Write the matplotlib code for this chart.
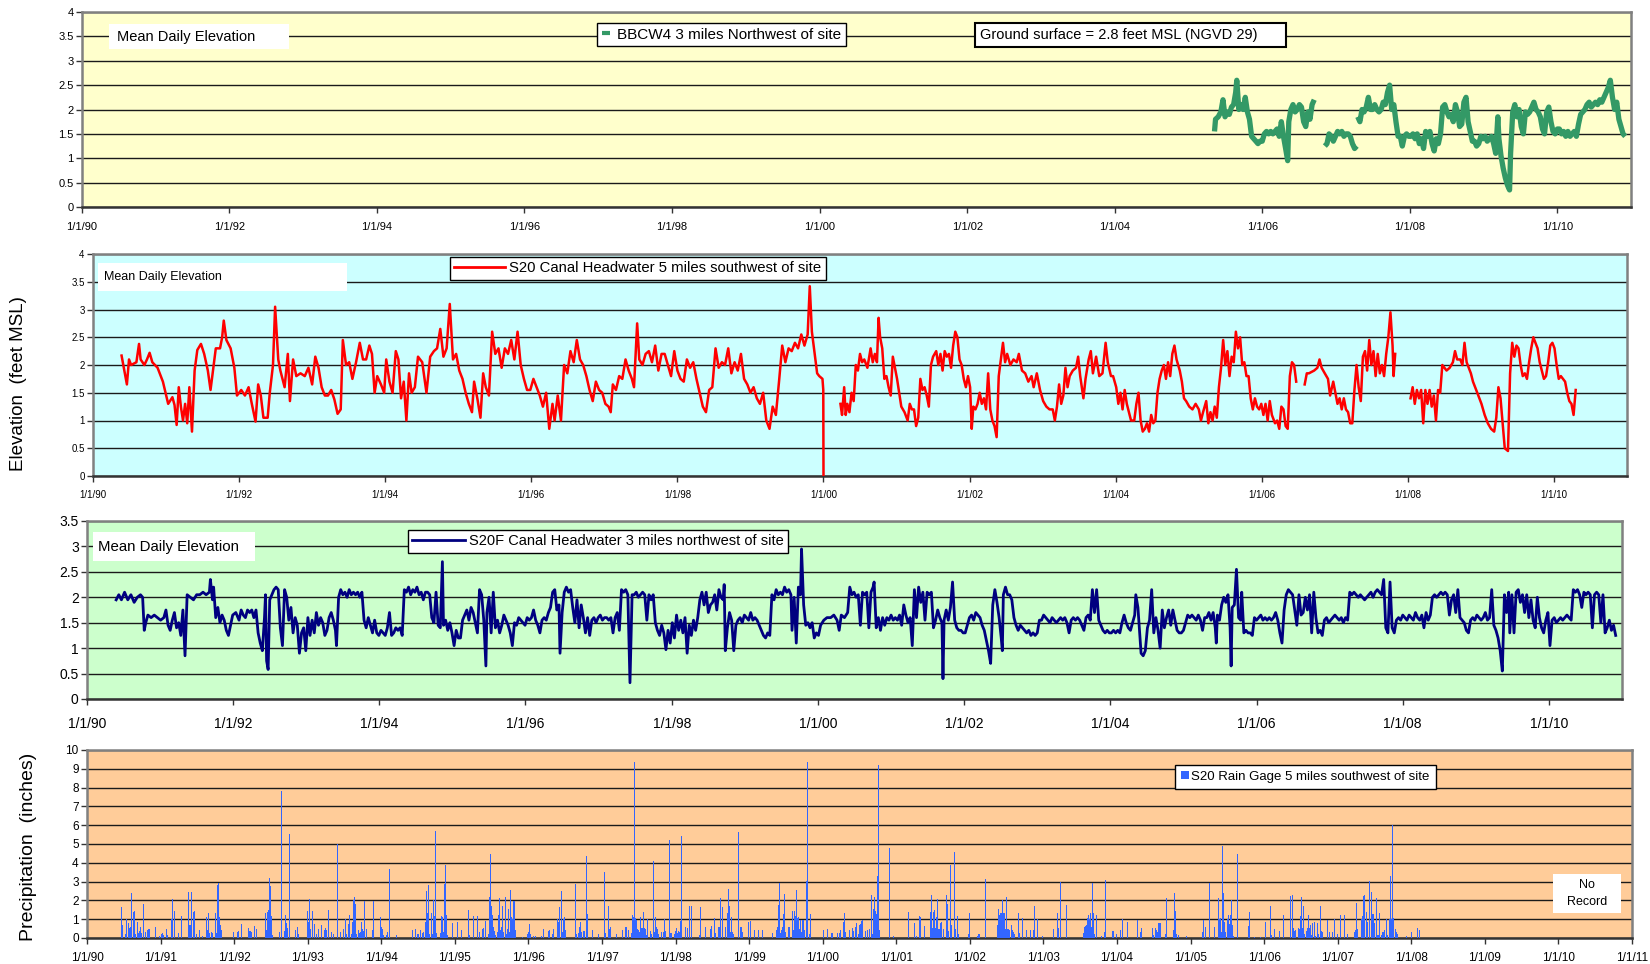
import matplotlib
matplotlib.use("Agg")
import matplotlib.pyplot as plt
from matplotlib.lines import Line2D
from matplotlib.patches import Rectangle
from matplotlib.ticker import FuncFormatter, MultipleLocator
import numpy as np
import pandas as pd

plt.rcParams["font.family"] = ["Liberation Sans", "DejaVu Sans"]

# ---- data: (decimal year, value) ----
# BBCW4 well, mean daily elevation (ft MSL), three recorded stretches
bbcw4_segments = [
    [(2005.353, 1.55), (2005.367, 1.80), (2005.403, 1.85), (2005.439, 1.95), (2005.468, 2.20), (2005.496, 1.85),
     (2005.525, 1.95), (2005.554, 1.90), (2005.583, 2.05), (2005.612, 2.10), (2005.640, 2.35), (2005.655, 2.60),
     (2005.683, 2.00), (2005.712, 2.10), (2005.741, 2.00), (2005.770, 2.25), (2005.799, 1.95), (2005.827, 1.80),
     (2005.856, 1.45), (2005.885, 1.40), (2005.914, 1.35), (2005.942, 1.30), (2005.971, 1.35), (2006.000, 1.35),
     (2006.029, 1.50), (2006.058, 1.55), (2006.086, 1.50), (2006.115, 1.55), (2006.144, 1.50), (2006.173, 1.55),
     (2006.201, 1.60), (2006.230, 1.45), (2006.259, 1.75), (2006.288, 1.45), (2006.317, 1.20), (2006.345, 0.95),
     (2006.360, 1.75), (2006.388, 2.00), (2006.417, 2.10), (2006.446, 1.95), (2006.475, 2.00), (2006.504, 2.10),
     (2006.532, 2.05), (2006.561, 1.75), (2006.590, 1.65), (2006.619, 1.95), (2006.647, 1.80), (2006.676, 2.10),
     (2006.705, 2.20)],
    [(2006.849, 1.25), (2006.878, 1.30), (2006.906, 1.50), (2006.935, 1.45), (2006.964, 1.35), (2006.993, 1.45),
     (2007.022, 1.55), (2007.050, 1.50), (2007.079, 1.55), (2007.108, 1.45), (2007.137, 1.50), (2007.165, 1.50),
     (2007.194, 1.45), (2007.223, 1.30), (2007.252, 1.20), (2007.281, 1.25)],
    [(2007.295, 1.85), (2007.324, 1.75), (2007.353, 2.00), (2007.381, 1.95), (2007.410, 2.05), (2007.439, 2.25),
     (2007.468, 2.00), (2007.496, 2.00), (2007.525, 2.10), (2007.554, 2.00), (2007.583, 1.95), (2007.612, 2.00),
     (2007.640, 2.15), (2007.669, 2.10), (2007.698, 2.35), (2007.727, 2.50), (2007.755, 2.00), (2007.784, 2.10),
     (2007.813, 1.75), (2007.842, 1.45), (2007.871, 1.45), (2007.899, 1.25), (2007.928, 1.45), (2007.957, 1.50),
     (2007.986, 1.45), (2008.014, 1.45), (2008.043, 1.50), (2008.072, 1.40), (2008.101, 1.50), (2008.129, 1.30),
     (2008.158, 1.40), (2008.187, 1.20), (2008.216, 1.55), (2008.245, 1.45), (2008.273, 1.55), (2008.302, 1.30),
     (2008.331, 1.15), (2008.360, 1.40), (2008.388, 1.30), (2008.417, 1.50), (2008.446, 2.05), (2008.475, 2.10),
     (2008.504, 1.95), (2008.532, 1.85), (2008.561, 1.90), (2008.590, 1.75), (2008.619, 2.10), (2008.647, 1.95),
     (2008.676, 1.65), (2008.705, 1.70), (2008.734, 2.15), (2008.763, 2.25), (2008.791, 1.75), (2008.820, 1.55),
     (2008.849, 1.35), (2008.878, 1.35), (2008.906, 1.25), (2008.935, 1.30), (2008.964, 1.45), (2008.993, 1.40),
     (2009.022, 1.45), (2009.050, 1.35), (2009.079, 1.40), (2009.108, 1.45), (2009.137, 1.30), (2009.165, 1.10),
     (2009.194, 1.85), (2009.209, 1.40), (2009.237, 1.05), (2009.266, 0.80), (2009.295, 0.60), (2009.324, 0.45),
     (2009.353, 0.35), (2009.367, 1.10), (2009.396, 1.95), (2009.424, 2.10), (2009.453, 1.85), (2009.482, 2.00),
     (2009.511, 1.65), (2009.540, 1.50), (2009.568, 1.95), (2009.597, 1.90), (2009.626, 1.95), (2009.655, 2.05),
     (2009.683, 2.15), (2009.712, 2.00), (2009.741, 1.95), (2009.770, 1.85), (2009.799, 1.60), (2009.827, 1.50),
     (2009.856, 1.95), (2009.885, 2.05), (2009.914, 1.75), (2009.942, 1.55), (2009.971, 1.50), (2010.000, 1.60),
     (2010.029, 1.60), (2010.058, 1.50), (2010.086, 1.55), (2010.115, 1.45), (2010.144, 1.55), (2010.173, 1.45),
     (2010.201, 1.50), (2010.230, 1.55), (2010.259, 1.45), (2010.288, 1.70), (2010.317, 1.90), (2010.345, 1.95),
     (2010.374, 2.00), (2010.403, 2.10), (2010.432, 2.15), (2010.460, 2.05), (2010.489, 2.10), (2010.518, 2.15),
     (2010.547, 2.10), (2010.576, 2.20), (2010.604, 2.15), (2010.633, 2.25), (2010.662, 2.35), (2010.691, 2.45),
     (2010.719, 2.60), (2010.748, 2.25), (2010.777, 2.00), (2010.806, 2.15), (2010.835, 1.80), (2010.863, 1.65),
     (2010.892, 1.50), (2010.921, 1.45)],
]

# S20 canal headwater (ft MSL), with gaps in the record
s20_segments = [
    [(1990.391, 2.17), (1990.464, 1.65), (1990.493, 2.10), (1990.522, 2.00), (1990.594, 2.05), (1990.630, 2.38),
     (1990.652, 2.10), (1990.703, 2.00), (1990.739, 2.10), (1990.775, 2.22), (1990.812, 2.05), (1990.884, 1.95),
     (1990.957, 1.70), (1990.993, 1.50), (1991.029, 1.30), (1991.087, 1.42), (1991.116, 1.28), (1991.145, 0.92),
     (1991.174, 1.60), (1991.203, 1.25), (1991.232, 1.00), (1991.261, 1.30), (1991.290, 0.95), (1991.319, 1.60),
     (1991.355, 0.80), (1991.391, 1.90), (1991.428, 2.27), (1991.478, 2.38), (1991.522, 2.20), (1991.572, 1.90),
     (1991.609, 1.55), (1991.681, 2.30), (1991.739, 2.30), (1991.768, 2.50), (1991.790, 2.80), (1991.826, 2.45),
     (1991.884, 2.30), (1991.935, 1.95), (1991.971, 1.45), (1992.029, 1.55), (1992.080, 1.45), (1992.130, 1.60),
     (1992.174, 1.30), (1992.225, 0.98), (1992.261, 1.65), (1992.297, 1.45), (1992.333, 1.05), (1992.391, 1.05),
     (1992.420, 1.50), (1992.464, 2.00), (1992.493, 3.05), (1992.536, 2.10), (1992.565, 1.90), (1992.623, 1.60),
     (1992.667, 2.20), (1992.696, 1.35), (1992.739, 2.10), (1992.783, 1.80), (1992.841, 1.85), (1992.899, 1.80),
     (1992.949, 1.95), (1993.000, 1.65), (1993.043, 2.15), (1993.087, 1.95), (1993.130, 1.60), (1993.174, 1.45),
     (1993.217, 1.45), (1993.261, 1.55), (1993.304, 1.38), (1993.348, 1.12), (1993.391, 1.20), (1993.420, 2.45),
     (1993.464, 2.00), (1993.507, 2.05), (1993.551, 1.75), (1993.601, 2.05), (1993.652, 2.40), (1993.696, 2.10),
     (1993.739, 2.10), (1993.783, 2.35), (1993.819, 2.20), (1993.855, 1.50), (1993.891, 1.80), (1993.942, 1.65),
     (1993.986, 1.50), (1994.014, 2.10), (1994.058, 1.70), (1994.101, 1.50), (1994.145, 2.25), (1994.181, 2.10),
     (1994.217, 1.40), (1994.254, 1.70), (1994.290, 1.00), (1994.326, 1.85), (1994.362, 1.50), (1994.406, 1.60),
     (1994.449, 2.15), (1994.507, 2.05), (1994.565, 1.50), (1994.616, 2.15), (1994.667, 2.25), (1994.710, 2.30),
     (1994.754, 2.65), (1994.797, 2.15), (1994.841, 2.30), (1994.884, 3.10), (1994.928, 2.10), (1994.971, 2.20),
     (1995.014, 1.90), (1995.058, 1.75), (1995.101, 1.50), (1995.145, 1.30), (1995.188, 1.15), (1995.217, 1.70),
     (1995.261, 1.40), (1995.304, 1.05), (1995.341, 1.85), (1995.377, 1.60), (1995.420, 1.45), (1995.464, 2.60),
     (1995.507, 2.20), (1995.551, 2.30), (1995.594, 1.95), (1995.638, 2.30), (1995.681, 2.20), (1995.725, 2.45),
     (1995.768, 2.10), (1995.812, 2.60), (1995.855, 2.00), (1995.899, 1.75), (1995.942, 1.55), (1995.986, 1.55),
     (1996.029, 1.75), (1996.072, 1.60), (1996.116, 1.45), (1996.159, 1.25), (1996.203, 1.50), (1996.246, 0.85),
     (1996.290, 1.30), (1996.319, 1.00), (1996.362, 1.45), (1996.406, 1.00), (1996.449, 2.00), (1996.493, 1.85),
     (1996.536, 2.25), (1996.580, 2.05), (1996.623, 2.45), (1996.667, 2.10), (1996.710, 2.00), (1996.754, 1.80),
     (1996.797, 1.55), (1996.841, 1.35), (1996.884, 1.70), (1996.928, 1.55), (1996.971, 1.50), (1997.014, 1.30),
     (1997.058, 1.25), (1997.087, 1.15), (1997.116, 1.65), (1997.159, 1.55), (1997.203, 1.80), (1997.246, 1.75),
     (1997.290, 2.10), (1997.333, 1.90), (1997.377, 1.75), (1997.406, 1.60), (1997.449, 2.75), (1997.478, 2.10),
     (1997.522, 2.00), (1997.565, 2.20), (1997.609, 2.25), (1997.652, 2.05), (1997.696, 2.35), (1997.739, 1.90),
     (1997.783, 2.20), (1997.826, 2.20), (1997.870, 2.00), (1997.913, 1.80), (1997.957, 2.25), (1998.000, 1.90),
     (1998.043, 1.75), (1998.087, 1.70), (1998.130, 2.10), (1998.174, 1.95), (1998.217, 2.05), (1998.261, 1.75),
     (1998.304, 1.50), (1998.348, 1.25), (1998.391, 1.15), (1998.435, 1.55), (1998.478, 1.60), (1998.522, 2.30),
     (1998.565, 1.95), (1998.609, 2.05), (1998.652, 2.00), (1998.696, 2.30), (1998.739, 1.85), (1998.783, 2.05),
     (1998.826, 1.90), (1998.870, 2.20), (1998.913, 1.75), (1998.957, 1.65), (1999.000, 1.50), (1999.043, 1.60),
     (1999.087, 1.40), (1999.130, 1.30), (1999.174, 1.50), (1999.217, 1.00), (1999.261, 0.85), (1999.304, 1.25),
     (1999.348, 1.10), (1999.391, 1.70), (1999.435, 2.35), (1999.478, 2.05), (1999.522, 2.30), (1999.565, 2.25),
     (1999.609, 2.40), (1999.652, 2.30), (1999.696, 2.55), (1999.739, 2.35), (1999.783, 2.55), (1999.812, 3.42),
     (1999.841, 2.60), (1999.884, 2.15), (1999.913, 1.85), (1999.942, 1.80), (1999.986, 1.75), (1999.997, 1.55),
     (2000.000, 0.00)],
    [(2000.232, 1.30), (2000.254, 1.10), (2000.283, 1.60), (2000.304, 1.10), (2000.326, 1.30), (2000.355, 1.15),
     (2000.384, 1.50), (2000.413, 1.35), (2000.442, 2.00), (2000.471, 1.90), (2000.500, 2.20), (2000.529, 2.05),
     (2000.558, 2.10), (2000.601, 1.95), (2000.645, 2.30), (2000.674, 2.05), (2000.703, 2.20), (2000.732, 2.05),
     (2000.754, 2.85), (2000.775, 2.50), (2000.804, 2.30), (2000.833, 1.75), (2000.862, 1.80), (2000.891, 1.60),
     (2000.920, 1.45), (2000.949, 2.15), (2000.978, 1.95), (2001.007, 1.75), (2001.036, 1.50), (2001.065, 1.25),
     (2001.109, 1.15), (2001.152, 1.00), (2001.181, 1.30), (2001.210, 1.20), (2001.239, 1.20), (2001.268, 0.90),
     (2001.297, 1.05), (2001.326, 1.75), (2001.355, 1.55), (2001.384, 1.60), (2001.413, 1.45), (2001.442, 1.25),
     (2001.471, 2.00), (2001.500, 2.15), (2001.543, 2.25), (2001.572, 2.00), (2001.601, 2.20), (2001.630, 1.90),
     (2001.659, 2.25), (2001.688, 2.15), (2001.717, 2.20), (2001.746, 1.95), (2001.775, 2.35), (2001.804, 2.60),
     (2001.833, 2.50), (2001.862, 2.10), (2001.891, 2.00), (2001.920, 1.75), (2001.949, 1.60), (2001.978, 1.80),
     (2002.007, 1.60), (2002.029, 0.85), (2002.051, 1.25), (2002.080, 1.20), (2002.109, 1.30), (2002.138, 1.50),
     (2002.167, 1.30), (2002.196, 1.40), (2002.225, 1.20), (2002.254, 1.85), (2002.283, 1.20), (2002.312, 1.00),
     (2002.341, 0.90), (2002.370, 0.70), (2002.399, 1.80), (2002.428, 2.10), (2002.457, 2.40), (2002.486, 2.05),
     (2002.514, 2.20), (2002.558, 2.00), (2002.601, 2.10), (2002.645, 2.05), (2002.674, 2.20), (2002.717, 1.90),
     (2002.761, 1.85), (2002.804, 1.70), (2002.848, 1.80), (2002.877, 1.60), (2002.920, 1.85), (2002.964, 1.55),
     (2003.007, 1.35), (2003.051, 1.25), (2003.094, 1.20), (2003.138, 1.20), (2003.167, 1.00), (2003.196, 1.25),
     (2003.225, 1.65), (2003.254, 1.30), (2003.283, 1.45), (2003.312, 1.95), (2003.341, 1.60), (2003.370, 1.80),
     (2003.413, 1.90), (2003.457, 1.95), (2003.486, 2.15), (2003.514, 1.80), (2003.558, 1.40), (2003.587, 1.75),
     (2003.630, 2.10), (2003.659, 2.25), (2003.688, 1.85), (2003.732, 2.15), (2003.775, 1.80), (2003.819, 1.85),
     (2003.862, 2.40), (2003.891, 2.05), (2003.935, 1.80), (2003.964, 1.80), (2004.007, 1.60), (2004.036, 1.30),
     (2004.065, 1.50), (2004.094, 1.20), (2004.123, 1.55), (2004.152, 1.30), (2004.181, 1.15), (2004.210, 1.00),
     (2004.254, 1.00), (2004.283, 1.30), (2004.312, 1.50), (2004.341, 1.00), (2004.370, 0.80), (2004.399, 0.85),
     (2004.428, 0.95), (2004.457, 0.80), (2004.486, 1.10), (2004.514, 0.95), (2004.543, 1.00), (2004.572, 1.50),
     (2004.601, 1.75), (2004.630, 1.90), (2004.659, 2.00), (2004.688, 1.75), (2004.717, 2.05), (2004.746, 1.80),
     (2004.775, 2.20), (2004.804, 2.35), (2004.833, 2.10), (2004.877, 1.90), (2004.906, 1.70), (2004.935, 1.40),
     (2004.964, 1.35), (2005.007, 1.25), (2005.051, 1.20), (2005.094, 1.30), (2005.138, 1.20), (2005.167, 1.00),
     (2005.196, 1.15), (2005.239, 1.35), (2005.268, 0.95), (2005.297, 1.15), (2005.326, 1.00), (2005.355, 1.25),
     (2005.384, 1.05), (2005.413, 1.60), (2005.442, 1.95), (2005.471, 2.45), (2005.500, 2.00), (2005.529, 2.25),
     (2005.558, 1.80), (2005.587, 2.15), (2005.616, 2.05), (2005.645, 2.60), (2005.674, 2.30), (2005.703, 2.50),
     (2005.732, 2.00), (2005.761, 2.05), (2005.790, 1.80), (2005.819, 1.80), (2005.848, 1.40), (2005.877, 1.20),
     (2005.906, 1.40), (2005.935, 1.25), (2005.964, 1.20), (2005.993, 1.30), (2006.022, 1.10), (2006.051, 1.30),
     (2006.080, 1.00), (2006.109, 1.35), (2006.138, 1.10), (2006.181, 0.95), (2006.210, 1.00), (2006.239, 0.85),
     (2006.268, 1.25), (2006.297, 1.20), (2006.326, 0.90), (2006.355, 0.85), (2006.384, 1.80), (2006.413, 2.05),
     (2006.442, 2.00), (2006.471, 1.70)],
    [(2006.587, 1.65), (2006.616, 1.85), (2006.645, 1.85), (2006.717, 1.90), (2006.761, 1.95), (2006.790, 2.10),
     (2006.819, 1.95), (2006.862, 1.85), (2006.906, 1.75), (2006.935, 1.45), (2006.978, 1.70), (2007.007, 1.50),
     (2007.036, 1.30), (2007.065, 1.40), (2007.094, 1.20), (2007.123, 1.40), (2007.152, 1.20), (2007.181, 1.15),
     (2007.210, 0.95), (2007.239, 0.95), (2007.268, 1.55), (2007.297, 2.00), (2007.326, 1.60), (2007.355, 1.35),
     (2007.384, 2.15), (2007.413, 2.25), (2007.442, 1.90), (2007.471, 2.45), (2007.500, 2.00), (2007.529, 2.25),
     (2007.558, 1.80), (2007.587, 2.20), (2007.616, 1.85), (2007.645, 2.00), (2007.674, 1.80), (2007.703, 2.20),
     (2007.732, 2.50), (2007.761, 2.95), (2007.790, 2.35), (2007.804, 1.80), (2007.826, 2.20)],
    [(2008.036, 1.40), (2008.065, 1.60), (2008.094, 1.30), (2008.123, 1.55), (2008.152, 1.40), (2008.181, 1.55),
     (2008.210, 0.95), (2008.239, 1.55), (2008.268, 1.30), (2008.297, 1.55), (2008.326, 1.25), (2008.355, 1.45),
     (2008.384, 1.00), (2008.413, 1.55), (2008.442, 1.50), (2008.471, 2.00), (2008.500, 1.95), (2008.529, 1.90),
     (2008.572, 1.95), (2008.616, 2.05), (2008.645, 2.25), (2008.674, 2.10), (2008.717, 2.10), (2008.746, 2.00),
     (2008.775, 2.40), (2008.804, 2.05), (2008.833, 1.95), (2008.862, 1.85), (2008.891, 1.70), (2008.935, 1.55),
     (2008.964, 1.45), (2009.007, 1.30), (2009.051, 1.10), (2009.094, 0.95), (2009.138, 0.85), (2009.181, 0.80),
     (2009.210, 1.05), (2009.239, 1.60), (2009.268, 1.40), (2009.297, 0.95), (2009.326, 0.50), (2009.370, 0.45),
     (2009.399, 1.85), (2009.428, 2.40), (2009.457, 2.15), (2009.486, 2.35), (2009.514, 2.30), (2009.543, 2.00),
     (2009.572, 1.80), (2009.601, 1.85), (2009.630, 1.75), (2009.659, 2.05), (2009.688, 2.30), (2009.717, 2.50),
     (2009.746, 2.40), (2009.775, 2.30), (2009.804, 2.05), (2009.833, 1.90), (2009.862, 1.75), (2009.891, 1.80),
     (2009.920, 2.05), (2009.949, 2.35), (2009.978, 2.40), (2010.007, 2.30), (2010.036, 2.00), (2010.065, 1.75),
     (2010.094, 1.80), (2010.123, 1.75), (2010.152, 1.70), (2010.181, 1.50), (2010.210, 1.35), (2010.239, 1.30),
     (2010.268, 1.10), (2010.297, 1.55)],
]

# S20F canal headwater (ft MSL)
s20f_points = [
    (1990.399, 1.95), (1990.435, 2.05), (1990.471, 1.95), (1990.514, 2.10), (1990.558, 1.95), (1990.601, 2.05),
    (1990.645, 1.90), (1990.688, 2.00), (1990.732, 2.05), (1990.761, 2.00), (1990.783, 1.35), (1990.804, 1.50),
    (1990.833, 1.65), (1990.877, 1.60), (1990.920, 1.65), (1990.964, 1.60), (1991.007, 1.55), (1991.051, 1.60),
    (1991.080, 1.75), (1991.109, 1.45), (1991.138, 1.35), (1991.167, 1.55), (1991.196, 1.70), (1991.225, 1.40),
    (1991.254, 1.50), (1991.283, 1.25), (1991.312, 1.75), (1991.341, 0.85), (1991.370, 2.05), (1991.413, 2.00),
    (1991.457, 1.95), (1991.500, 2.05), (1991.543, 2.05), (1991.587, 2.10), (1991.630, 2.05), (1991.674, 2.10),
    (1991.688, 2.35), (1991.717, 1.95), (1991.732, 2.20), (1991.761, 1.60), (1991.790, 1.80), (1991.819, 1.50),
    (1991.848, 1.65), (1991.877, 1.55), (1991.906, 1.35), (1991.935, 1.25), (1991.964, 1.45), (1991.993, 1.65),
    (1992.036, 1.70), (1992.080, 1.55), (1992.109, 1.75), (1992.138, 1.65), (1992.167, 1.60), (1992.196, 1.75),
    (1992.225, 1.70), (1992.254, 1.75), (1992.283, 1.60), (1992.312, 1.75), (1992.341, 1.30), (1992.370, 1.10),
    (1992.399, 0.95), (1992.428, 1.60), (1992.442, 2.05), (1992.457, 0.75), (1992.478, 0.58), (1992.500, 1.95),
    (1992.529, 2.05), (1992.558, 2.15), (1992.587, 2.20), (1992.616, 2.15), (1992.645, 1.40), (1992.674, 1.05),
    (1992.703, 2.15), (1992.732, 2.00), (1992.761, 1.55), (1992.790, 1.80), (1992.819, 1.30), (1992.848, 1.60),
    (1992.877, 1.45), (1992.906, 0.90), (1992.935, 1.30), (1992.964, 1.40), (1992.993, 0.95), (1993.022, 1.60),
    (1993.051, 1.25), (1993.080, 1.55), (1993.109, 1.30), (1993.138, 1.70), (1993.167, 1.45), (1993.196, 1.60),
    (1993.225, 1.50), (1993.254, 1.25), (1993.283, 1.35), (1993.312, 1.60), (1993.341, 1.70), (1993.370, 1.55),
    (1993.399, 1.35), (1993.413, 1.05), (1993.442, 2.00), (1993.471, 2.15), (1993.500, 2.05), (1993.529, 2.10),
    (1993.558, 2.00), (1993.587, 2.15), (1993.616, 2.05), (1993.645, 2.10), (1993.674, 2.05), (1993.703, 2.10),
    (1993.732, 2.00), (1993.761, 2.10), (1993.790, 1.55), (1993.819, 1.40), (1993.848, 1.60), (1993.877, 1.45),
    (1993.906, 1.30), (1993.935, 1.55), (1993.964, 1.30), (1993.993, 1.25), (1994.022, 1.35), (1994.051, 1.30),
    (1994.080, 1.25), (1994.109, 1.40), (1994.138, 1.70), (1994.167, 1.25), (1994.196, 1.30), (1994.225, 1.40),
    (1994.254, 1.35), (1994.283, 1.40), (1994.312, 1.25), (1994.341, 2.15), (1994.370, 2.10), (1994.399, 2.20),
    (1994.428, 2.05), (1994.457, 2.15), (1994.486, 2.10), (1994.514, 2.20), (1994.543, 2.05), (1994.572, 2.10),
    (1994.601, 1.95), (1994.630, 2.10), (1994.659, 2.10), (1994.688, 2.05), (1994.717, 1.60), (1994.746, 1.50),
    (1994.775, 2.10), (1994.804, 1.45), (1994.833, 1.40), (1994.862, 2.70), (1994.877, 1.45), (1994.906, 1.55),
    (1994.935, 1.35), (1994.964, 1.50), (1994.993, 1.30), (1995.022, 1.05), (1995.051, 1.35), (1995.080, 1.20),
    (1995.109, 1.20), (1995.138, 1.55), (1995.167, 1.65), (1995.196, 1.75), (1995.225, 1.55), (1995.254, 1.80),
    (1995.283, 1.70), (1995.312, 1.50), (1995.341, 1.30), (1995.370, 2.15), (1995.399, 2.05), (1995.428, 1.55),
    (1995.457, 0.65), (1995.471, 1.70), (1995.500, 2.00), (1995.529, 1.30), (1995.558, 2.10), (1995.587, 1.40),
    (1995.616, 1.55), (1995.645, 1.30), (1995.674, 1.45), (1995.703, 1.65), (1995.732, 1.55), (1995.761, 1.45),
    (1995.790, 1.30), (1995.819, 1.05), (1995.848, 1.50), (1995.877, 1.45), (1995.906, 1.60), (1995.935, 1.55),
    (1995.964, 1.50), (1995.993, 1.45), (1996.022, 1.60), (1996.051, 1.55), (1996.080, 1.60), (1996.109, 1.75),
    (1996.138, 1.55), (1996.167, 1.45), (1996.196, 1.30), (1996.225, 1.55), (1996.254, 1.60), (1996.283, 1.55),
    (1996.312, 1.70), (1996.341, 1.80), (1996.370, 2.10), (1996.399, 2.15), (1996.428, 1.75), (1996.457, 1.85),
    (1996.471, 0.90), (1996.500, 1.70), (1996.529, 2.10), (1996.558, 2.20), (1996.587, 2.10), (1996.616, 2.15),
    (1996.645, 1.80), (1996.674, 1.50), (1996.703, 1.95), (1996.732, 1.40), (1996.761, 1.85), (1996.790, 1.60),
    (1996.819, 1.30), (1996.848, 1.60), (1996.877, 1.25), (1996.906, 1.55), (1996.935, 1.60), (1996.964, 1.50),
    (1996.993, 1.60), (1997.022, 1.65), (1997.051, 1.55), (1997.080, 1.60), (1997.109, 1.60), (1997.138, 1.55),
    (1997.167, 1.60), (1997.196, 1.30), (1997.225, 1.60), (1997.254, 1.70), (1997.283, 1.35), (1997.312, 2.15),
    (1997.341, 2.10), (1997.370, 2.15), (1997.399, 2.05), (1997.428, 0.32), (1997.457, 2.05), (1997.486, 2.05),
    (1997.514, 2.10), (1997.543, 2.00), (1997.572, 2.05), (1997.601, 2.10), (1997.630, 2.05), (1997.659, 1.55),
    (1997.688, 2.05), (1997.717, 1.95), (1997.746, 2.05), (1997.775, 1.50), (1997.804, 1.35), (1997.833, 1.25),
    (1997.862, 1.45), (1997.891, 1.30), (1997.920, 0.97), (1997.949, 1.35), (1997.978, 1.10), (1998.007, 1.50),
    (1998.036, 1.20), (1998.065, 1.65), (1998.094, 1.35), (1998.123, 1.55), (1998.152, 1.30), (1998.181, 1.60),
    (1998.210, 0.90), (1998.239, 1.45), (1998.268, 1.25), (1998.297, 1.55), (1998.326, 1.35), (1998.355, 1.60),
    (1998.384, 1.95), (1998.413, 2.10), (1998.442, 1.85), (1998.471, 2.10), (1998.500, 1.70), (1998.529, 1.85),
    (1998.558, 1.90), (1998.587, 2.05), (1998.616, 1.75), (1998.645, 2.15), (1998.674, 2.00), (1998.703, 1.95),
    (1998.717, 2.25), (1998.732, 0.95), (1998.761, 1.40), (1998.790, 1.70), (1998.819, 1.55), (1998.848, 0.95),
    (1998.877, 1.45), (1998.906, 1.55), (1998.935, 1.60), (1998.964, 1.50), (1998.993, 1.65), (1999.022, 1.60),
    (1999.051, 1.55), (1999.080, 1.70), (1999.109, 1.55), (1999.138, 1.60), (1999.167, 1.55), (1999.196, 1.45),
    (1999.225, 1.35), (1999.254, 1.25), (1999.283, 1.20), (1999.312, 1.30), (1999.341, 1.25), (1999.370, 2.05),
    (1999.399, 1.95), (1999.428, 2.15), (1999.457, 2.05), (1999.486, 2.10), (1999.514, 2.05), (1999.543, 2.20),
    (1999.572, 2.10), (1999.601, 2.15), (1999.630, 2.05), (1999.645, 1.35), (1999.674, 2.00), (1999.703, 1.10),
    (1999.732, 2.20), (1999.761, 2.05), (1999.775, 2.95), (1999.804, 1.85), (1999.833, 1.45), (1999.862, 1.50),
    (1999.891, 1.40), (1999.920, 1.50), (1999.949, 1.20), (1999.978, 1.30), (2000.007, 1.25), (2000.036, 1.45),
    (2000.080, 1.55), (2000.123, 1.60), (2000.174, 1.60), (2000.217, 1.65), (2000.261, 1.55), (2000.290, 1.35),
    (2000.319, 1.65), (2000.362, 1.60), (2000.406, 1.70), (2000.435, 2.20), (2000.464, 2.05), (2000.493, 2.10),
    (2000.522, 2.00), (2000.551, 2.05), (2000.580, 1.45), (2000.609, 2.10), (2000.638, 2.05), (2000.667, 2.10),
    (2000.696, 1.40), (2000.725, 2.10), (2000.754, 2.20), (2000.768, 2.30), (2000.797, 1.40), (2000.826, 1.60),
    (2000.855, 1.35), (2000.884, 1.60), (2000.913, 1.45), (2000.942, 1.60), (2000.971, 1.55), (2001.000, 1.65),
    (2001.029, 1.55), (2001.058, 1.60), (2001.087, 1.55), (2001.116, 1.65), (2001.145, 1.45), (2001.174, 1.85),
    (2001.203, 1.65), (2001.232, 1.50), (2001.261, 1.60), (2001.290, 1.05), (2001.319, 2.15), (2001.348, 1.60),
    (2001.377, 2.20), (2001.406, 1.90), (2001.435, 2.10), (2001.464, 1.55), (2001.493, 2.10), (2001.522, 2.05),
    (2001.551, 2.10), (2001.580, 1.40), (2001.609, 1.55), (2001.638, 1.75), (2001.667, 1.60), (2001.696, 1.50),
    (2001.710, 0.40), (2001.725, 1.55), (2001.754, 1.75), (2001.783, 1.55), (2001.812, 1.80), (2001.841, 2.30),
    (2001.870, 1.55), (2001.899, 1.40), (2001.928, 1.35), (2001.957, 1.35), (2001.986, 1.30), (2002.014, 1.30),
    (2002.043, 1.45), (2002.072, 1.60), (2002.101, 1.65), (2002.130, 1.55), (2002.159, 1.70), (2002.188, 1.65),
    (2002.217, 1.60), (2002.246, 1.45), (2002.275, 1.35), (2002.304, 1.15), (2002.333, 0.95), (2002.362, 0.70),
    (2002.391, 1.85), (2002.420, 2.15), (2002.449, 1.90), (2002.478, 1.60), (2002.507, 1.20), (2002.522, 0.95),
    (2002.536, 2.05), (2002.565, 2.20), (2002.594, 2.05), (2002.623, 2.05), (2002.652, 1.95), (2002.681, 1.60),
    (2002.710, 1.45), (2002.739, 1.35), (2002.768, 1.45), (2002.797, 1.40), (2002.826, 1.35), (2002.855, 1.30),
    (2002.884, 1.35), (2002.913, 1.25), (2002.942, 1.30), (2002.971, 1.25), (2003.000, 1.30), (2003.029, 1.55),
    (2003.058, 1.55), (2003.087, 1.65), (2003.116, 1.60), (2003.145, 1.55), (2003.174, 1.50), (2003.203, 1.60),
    (2003.232, 1.55), (2003.261, 1.50), (2003.290, 1.55), (2003.319, 1.60), (2003.348, 1.55), (2003.377, 1.60),
    (2003.406, 1.50), (2003.435, 1.30), (2003.464, 1.55), (2003.493, 1.60), (2003.522, 1.55), (2003.551, 1.60),
    (2003.580, 1.55), (2003.609, 1.45), (2003.638, 1.35), (2003.667, 1.60), (2003.696, 1.65), (2003.725, 1.55),
    (2003.754, 2.15), (2003.783, 1.70), (2003.812, 2.15), (2003.841, 1.55), (2003.870, 1.45), (2003.899, 1.35),
    (2003.928, 1.30), (2003.957, 1.35), (2003.986, 1.30), (2004.014, 1.30), (2004.043, 1.35), (2004.072, 1.30),
    (2004.101, 1.35), (2004.130, 1.30), (2004.159, 1.50), (2004.188, 1.65), (2004.217, 1.50), (2004.246, 1.40),
    (2004.275, 1.35), (2004.304, 1.50), (2004.333, 1.65), (2004.348, 2.05), (2004.377, 1.80), (2004.406, 1.20),
    (2004.420, 0.90), (2004.449, 0.85), (2004.478, 0.95), (2004.507, 1.40), (2004.536, 1.55), (2004.565, 2.15),
    (2004.594, 1.30), (2004.623, 1.60), (2004.652, 1.35), (2004.681, 1.00), (2004.710, 1.75), (2004.739, 1.40),
    (2004.768, 1.60), (2004.797, 1.75), (2004.826, 1.45), (2004.855, 1.75), (2004.884, 1.55), (2004.913, 1.35),
    (2004.942, 1.30), (2004.971, 1.30), (2005.000, 1.35), (2005.029, 1.50), (2005.058, 1.65), (2005.087, 1.60),
    (2005.116, 1.65), (2005.145, 1.60), (2005.174, 1.55), (2005.203, 1.65), (2005.232, 1.55), (2005.261, 1.35),
    (2005.290, 1.60), (2005.319, 1.60), (2005.348, 1.70), (2005.377, 1.55), (2005.406, 1.70), (2005.435, 1.40),
    (2005.449, 1.10), (2005.464, 1.65), (2005.493, 1.55), (2005.522, 1.85), (2005.551, 2.00), (2005.580, 1.90),
    (2005.609, 2.05), (2005.638, 1.40), (2005.652, 0.65), (2005.667, 1.80), (2005.696, 1.85), (2005.725, 2.55),
    (2005.754, 1.60), (2005.783, 1.55), (2005.797, 2.10), (2005.826, 1.30), (2005.855, 1.35), (2005.884, 1.30),
    (2005.913, 1.30), (2005.942, 1.25), (2005.971, 1.60), (2006.000, 1.55), (2006.029, 1.60), (2006.058, 1.65),
    (2006.087, 1.55), (2006.116, 1.60), (2006.145, 1.55), (2006.174, 1.60), (2006.203, 1.55), (2006.232, 1.60),
    (2006.261, 1.70), (2006.290, 1.55), (2006.319, 1.30), (2006.348, 1.10), (2006.377, 1.75), (2006.406, 2.05),
    (2006.435, 2.15), (2006.464, 2.10), (2006.493, 2.05), (2006.522, 1.75), (2006.551, 1.45), (2006.580, 2.05),
    (2006.609, 1.65), (2006.638, 1.70), (2006.667, 2.00), (2006.696, 1.75), (2006.725, 2.05), (2006.754, 1.30),
    (2006.783, 2.10), (2006.812, 1.60), (2006.841, 1.30), (2006.870, 1.35), (2006.899, 1.25), (2006.928, 1.55),
    (2006.957, 1.60), (2006.986, 1.50), (2007.014, 1.55), (2007.043, 1.60), (2007.072, 1.65), (2007.101, 1.60),
    (2007.130, 1.55), (2007.159, 1.60), (2007.188, 1.50), (2007.217, 1.60), (2007.246, 1.55), (2007.275, 2.10),
    (2007.304, 2.05), (2007.333, 2.10), (2007.362, 2.05), (2007.391, 2.00), (2007.420, 2.05), (2007.449, 2.00),
    (2007.478, 1.95), (2007.507, 2.00), (2007.536, 2.05), (2007.565, 2.10), (2007.594, 2.00), (2007.623, 2.10),
    (2007.652, 2.15), (2007.681, 2.10), (2007.710, 2.05), (2007.739, 2.35), (2007.768, 1.40), (2007.797, 1.30),
    (2007.826, 2.30), (2007.855, 1.40), (2007.884, 1.30), (2007.913, 1.55), (2007.942, 1.60), (2007.971, 1.55),
    (2008.000, 1.65), (2008.029, 1.60), (2008.058, 1.55), (2008.087, 1.65), (2008.116, 1.60), (2008.145, 1.55),
    (2008.174, 1.70), (2008.203, 1.60), (2008.232, 1.55), (2008.261, 1.65), (2008.290, 1.40), (2008.319, 1.70),
    (2008.348, 1.55), (2008.377, 1.65), (2008.406, 2.00), (2008.435, 2.05), (2008.464, 2.00), (2008.493, 2.05),
    (2008.522, 2.10), (2008.551, 2.05), (2008.580, 2.10), (2008.609, 2.05), (2008.638, 1.65), (2008.667, 1.95),
    (2008.696, 2.05), (2008.725, 1.70), (2008.754, 2.15), (2008.783, 1.60), (2008.812, 1.55), (2008.841, 1.50),
    (2008.870, 1.35), (2008.899, 1.30), (2008.928, 1.55), (2008.957, 1.60), (2008.986, 1.55), (2009.014, 1.65),
    (2009.043, 1.60), (2009.072, 1.55), (2009.101, 1.60), (2009.130, 1.70), (2009.159, 1.55), (2009.188, 1.60),
    (2009.217, 2.15), (2009.246, 1.45), (2009.275, 1.35), (2009.304, 1.20), (2009.333, 0.95), (2009.362, 0.55),
    (2009.391, 2.05), (2009.420, 1.70), (2009.449, 2.10), (2009.464, 1.30), (2009.493, 2.05), (2009.522, 1.30),
    (2009.551, 2.10), (2009.580, 2.15), (2009.609, 1.90), (2009.638, 2.05), (2009.667, 1.70), (2009.696, 2.05),
    (2009.725, 1.60), (2009.754, 1.95), (2009.783, 1.55), (2009.812, 1.40), (2009.841, 2.00), (2009.870, 1.60),
    (2009.899, 1.40), (2009.928, 1.30), (2009.957, 1.55), (2009.986, 1.70), (2010.014, 1.05), (2010.043, 1.55),
    (2010.072, 1.60), (2010.101, 1.50), (2010.130, 1.55), (2010.159, 1.60), (2010.188, 1.55), (2010.217, 1.60),
    (2010.246, 1.65), (2010.275, 1.60), (2010.304, 1.55), (2010.333, 2.15), (2010.362, 2.10), (2010.391, 2.15),
    (2010.420, 2.05), (2010.449, 1.80), (2010.478, 2.10), (2010.507, 2.05), (2010.536, 2.10), (2010.565, 2.05),
    (2010.594, 1.40), (2010.623, 2.05), (2010.652, 2.10), (2010.681, 2.05), (2010.710, 1.50), (2010.739, 2.05),
    (2010.768, 1.30), (2010.797, 1.40), (2010.826, 1.55), (2010.855, 1.35), (2010.884, 1.45), (2010.913, 1.25),
]

# S20 rain gage daily totals (inches)
rain_points = [
    (1990.418, 0.02), (1990.468, 1.65), (1990.482, 0.70), (1990.523, 0.20), (1990.541, 1.00), (1990.559, 0.80),
    (1990.577, 0.55), (1990.591, 0.60), (1990.609, 2.40), (1990.627, 0.20), (1990.636, 1.40), (1990.650, 1.45),
    (1990.664, 0.20), (1990.691, 0.85), (1990.705, 0.25), (1990.718, 0.35), (1990.732, 0.60), (1990.745, 0.25),
    (1990.773, 1.80), (1990.800, 0.30), (1990.827, 0.45), (1990.841, 0.50), (1990.855, 0.50), (1990.936, 0.60),
    (1990.991, 0.10), (1991.018, 0.20), (1991.032, 0.25), (1991.045, 0.15), (1991.086, 0.50), (1991.100, 0.15),
    (1991.155, 1.00), (1991.168, 2.10), (1991.195, 1.45), (1991.250, 0.25), (1991.291, 1.15), (1991.373, 2.45),
    (1991.386, 0.75), (1991.400, 0.70), (1991.414, 0.55), (1991.427, 2.45), (1991.441, 1.40), (1991.455, 1.45),
    (1991.495, 0.20), (1991.523, 0.40), (1991.564, 0.10), (1991.618, 1.10), (1991.632, 0.45), (1991.645, 1.35),
    (1991.659, 0.25), (1991.686, 0.30), (1991.700, 0.25), (1991.741, 1.35), (1991.759, 0.25), (1991.773, 2.80),
    (1991.786, 2.95), (1991.800, 1.10), (1991.814, 0.70), (1991.827, 0.40), (1991.995, 0.30), (1992.045, 0.30),
    (1992.059, 0.35), (1992.095, 0.75), (1992.195, 0.55), (1992.209, 0.35), (1992.223, 0.35), (1992.236, 0.30),
    (1992.277, 0.65), (1992.305, 0.50), (1992.427, 1.35), (1992.441, 0.45), (1992.455, 1.40), (1992.468, 1.50),
    (1992.482, 3.20), (1992.495, 2.75), (1992.509, 1.15), (1992.523, 0.15), (1992.618, 0.30), (1992.645, 7.80),
    (1992.686, 0.35), (1992.700, 1.25), (1992.714, 0.80), (1992.727, 0.55), (1992.755, 5.55), (1992.836, 0.45),
    (1992.864, 0.60), (1992.877, 0.20), (1993.000, 1.45), (1993.014, 0.85), (1993.027, 2.10), (1993.041, 0.50),
    (1993.068, 1.45), (1993.095, 0.75), (1993.123, 0.20), (1993.150, 0.50), (1993.191, 0.70), (1993.232, 0.45),
    (1993.245, 0.55), (1993.259, 0.40), (1993.286, 1.50), (1993.327, 0.30), (1993.355, 0.20), (1993.409, 5.00),
    (1993.450, 0.30), (1993.491, 0.50), (1993.518, 1.00), (1993.532, 0.20), (1993.559, 0.75), (1993.573, 1.25),
    (1993.600, 0.20), (1993.614, 0.85), (1993.627, 2.00), (1993.641, 2.20), (1993.655, 1.80), (1993.668, 0.20),
    (1993.695, 0.40), (1993.709, 0.25), (1993.723, 0.30), (1993.736, 0.85), (1993.750, 0.50), (1993.764, 0.35),
    (1993.777, 1.95), (1993.805, 0.50), (1993.886, 0.40), (1993.900, 1.95), (1993.995, 1.10), (1994.009, 0.60),
    (1994.023, 0.50), (1994.036, 0.15), (1994.064, 0.15), (1994.091, 0.30), (1994.118, 3.65), (1994.200, 0.15),
    (1994.418, 0.40), (1994.459, 0.50), (1994.486, 0.20), (1994.500, 0.20), (1994.527, 0.45), (1994.555, 0.25),
    (1994.568, 0.30), (1994.595, 0.85), (1994.609, 2.50), (1994.623, 1.35), (1994.636, 2.80), (1994.650, 0.20),
    (1994.677, 1.35), (1994.691, 0.20), (1994.705, 2.00), (1994.718, 1.15), (1994.732, 5.70), (1994.745, 0.25),
    (1994.800, 0.25), (1994.814, 1.15), (1994.827, 1.10), (1994.841, 0.30), (1994.855, 2.85), (1994.868, 3.90),
    (1994.882, 1.25), (1994.895, 0.15), (1994.964, 0.80), (1995.032, 0.85), (1995.086, 0.40), (1995.182, 1.50),
    (1995.195, 0.15), (1995.250, 1.15), (1995.305, 1.15), (1995.332, 0.30), (1995.373, 0.50), (1995.386, 0.55),
    (1995.414, 0.90), (1995.458, 0.20), (1995.467, 2.20), (1995.481, 4.45), (1995.494, 1.70), (1995.508, 1.20),
    (1995.522, 0.60), (1995.535, 0.35), (1995.549, 0.15), (1995.576, 0.30), (1995.590, 1.25), (1995.604, 2.15),
    (1995.617, 0.40), (1995.631, 0.60), (1995.644, 1.70), (1995.658, 0.30), (1995.685, 2.20), (1995.699, 0.20),
    (1995.713, 0.50), (1995.726, 1.55), (1995.740, 0.30), (1995.754, 2.55), (1995.767, 1.10), (1995.781, 1.00),
    (1995.794, 1.95), (1995.808, 1.95), (1995.822, 0.40), (1995.917, 0.05), (1995.985, 0.20), (1995.999, 0.30),
    (1996.013, 0.75), (1996.026, 0.20), (1996.067, 0.10), (1996.094, 0.10), (1996.176, 0.10), (1996.204, 0.50),
    (1996.272, 0.35), (1996.285, 0.45), (1996.326, 0.20), (1996.340, 0.50), (1996.394, 1.00), (1996.408, 0.85),
    (1996.422, 1.65), (1996.449, 2.50), (1996.463, 0.30), (1996.476, 1.00), (1996.490, 1.10), (1996.504, 0.40),
    (1996.640, 2.85), (1996.654, 0.20), (1996.681, 0.25), (1996.695, 0.60), (1996.708, 0.85), (1996.722, 0.30),
    (1996.749, 0.35), (1996.763, 0.35), (1996.790, 4.35), (1996.804, 1.30), (1996.872, 0.40), (1996.954, 0.20),
    (1997.035, 3.50), (1997.049, 0.25), (1997.090, 1.70), (1997.104, 0.50), (1997.117, 0.60), (1997.199, 0.20),
    (1997.281, 0.40), (1997.322, 0.60), (1997.335, 0.60), (1997.363, 0.45), (1997.404, 0.25), (1997.417, 1.20),
    (1997.431, 1.10), (1997.444, 9.35), (1997.458, 1.05), (1997.472, 0.95), (1997.485, 0.50), (1997.499, 0.40),
    (1997.513, 0.30), (1997.526, 1.10), (1997.540, 0.55), (1997.554, 0.55), (1997.567, 1.40), (1997.581, 0.55),
    (1997.594, 0.50), (1997.608, 0.15), (1997.622, 1.00), (1997.663, 0.35), (1997.676, 0.20), (1997.704, 4.10),
    (1997.717, 0.30), (1997.731, 1.10), (1997.744, 0.60), (1997.758, 0.50), (1997.772, 0.20), (1997.813, 0.30),
    (1997.840, 0.30), (1997.854, 1.00), (1997.867, 0.35), (1997.922, 5.20), (1997.935, 0.25), (1997.949, 0.25),
    (1997.990, 0.20), (1998.004, 0.35), (1998.017, 0.55), (1998.031, 0.25), (1998.045, 0.35), (1998.058, 0.30),
    (1998.072, 0.90), (1998.085, 5.40), (1998.140, 0.60), (1998.167, 0.55), (1998.195, 1.70), (1998.222, 1.70),
    (1998.331, 0.15), (1998.345, 1.65), (1998.413, 0.60), (1998.481, 0.50), (1998.494, 0.65), (1998.535, 1.05),
    (1998.549, 0.25), (1998.590, 0.60), (1998.604, 0.40), (1998.617, 2.15), (1998.631, 0.35), (1998.644, 1.65),
    (1998.672, 0.60), (1998.685, 0.30), (1998.699, 1.35), (1998.713, 2.60), (1998.726, 1.70), (1998.740, 0.30),
    (1998.754, 1.10), (1998.767, 0.30), (1998.781, 0.20), (1998.849, 5.65), (1998.876, 0.60), (1998.890, 0.60),
    (1998.904, 0.30), (1998.985, 0.85), (1999.013, 0.90), (1999.067, 0.40), (1999.122, 0.40), (1999.176, 0.40),
    (1999.313, 0.25), (1999.367, 0.40), (1999.381, 0.60), (1999.395, 1.75), (1999.408, 2.90), (1999.422, 0.25),
    (1999.435, 0.40), (1999.449, 0.60), (1999.463, 1.30), (1999.476, 2.35), (1999.490, 0.30), (1999.531, 0.60),
    (1999.544, 0.60), (1999.585, 1.45), (1999.599, 0.45), (1999.613, 1.45), (1999.626, 1.15), (1999.640, 2.55),
    (1999.654, 1.05), (1999.667, 1.10), (1999.681, 0.50), (1999.694, 0.95), (1999.708, 0.30), (1999.722, 0.95),
    (1999.735, 0.95), (1999.749, 0.45), (1999.776, 3.05), (1999.790, 9.35), (1999.817, 0.20), (1999.831, 1.30),
    (2000.004, 0.45), (2000.063, 0.50), (2000.113, 0.25), (2000.127, 0.25), (2000.195, 0.25), (2000.222, 0.25),
    (2000.236, 0.40), (2000.277, 0.85), (2000.290, 1.35), (2000.304, 0.30), (2000.359, 0.40), (2000.400, 0.55),
    (2000.413, 0.35), (2000.440, 0.60), (2000.454, 0.80), (2000.481, 0.20), (2000.495, 0.70), (2000.509, 0.75),
    (2000.522, 0.90), (2000.536, 0.95), (2000.577, 0.35), (2000.604, 0.45), (2000.631, 0.50), (2000.658, 2.30),
    (2000.672, 0.20), (2000.686, 1.55), (2000.699, 2.20), (2000.713, 1.45), (2000.731, 1.30), (2000.744, 3.30),
    (2000.758, 9.20), (2000.772, 0.45), (2000.911, 4.80), (2000.966, 0.10), (2001.166, 1.40), (2001.247, 0.80),
    (2001.275, 0.10), (2001.316, 1.15), (2001.329, 1.10), (2001.384, 0.65), (2001.466, 1.40), (2001.479, 2.30),
    (2001.493, 0.55), (2001.507, 1.40), (2001.520, 1.50), (2001.534, 0.55), (2001.547, 1.10), (2001.561, 2.10),
    (2001.575, 0.50), (2001.588, 0.50), (2001.602, 0.80), (2001.616, 0.85), (2001.643, 0.50), (2001.684, 2.30),
    (2001.697, 1.80), (2001.711, 0.35), (2001.738, 3.90), (2001.752, 0.70), (2001.793, 4.60), (2001.806, 0.50),
    (2001.834, 1.15), (2001.847, 0.20), (2001.984, 0.20), (2001.997, 1.35), (2002.107, 0.10), (2002.120, 0.20),
    (2002.134, 0.20), (2002.216, 3.15), (2002.379, 0.70), (2002.393, 1.55), (2002.407, 1.20), (2002.420, 1.35),
    (2002.434, 1.35), (2002.447, 2.00), (2002.461, 1.35), (2002.475, 1.35), (2002.488, 0.50), (2002.502, 2.20),
    (2002.516, 0.50), (2002.529, 0.50), (2002.543, 0.40), (2002.570, 0.70), (2002.584, 0.45), (2002.597, 0.30),
    (2002.611, 0.20), (2002.666, 1.35), (2002.679, 0.25), (2002.720, 1.05), (2002.775, 0.40), (2002.829, 0.45),
    (2002.870, 0.45), (2002.884, 1.70), (2002.925, 1.00), (2002.993, 0.10), (2003.143, 0.50), (2003.197, 1.35),
    (2003.211, 0.55), (2003.225, 3.00), (2003.238, 0.20), (2003.307, 1.75), (2003.538, 0.25), (2003.552, 0.60),
    (2003.566, 0.65), (2003.579, 0.70), (2003.593, 1.05), (2003.607, 1.20), (2003.620, 1.00), (2003.634, 1.35),
    (2003.647, 0.60), (2003.661, 2.90), (2003.675, 1.35), (2003.688, 0.20), (2003.716, 1.20), (2003.784, 0.10),
    (2003.825, 0.30), (2003.839, 3.10), (2003.934, 0.35), (2003.948, 0.35), (2003.989, 0.20), (2004.043, 0.45),
    (2004.070, 1.00), (2004.138, 0.85), (2004.275, 0.95), (2004.316, 0.30), (2004.329, 0.55), (2004.479, 0.55),
    (2004.493, 0.15), (2004.520, 0.55), (2004.534, 0.45), (2004.547, 0.30), (2004.561, 0.80), (2004.575, 0.80),
    (2004.588, 0.80), (2004.656, 0.20), (2004.670, 2.15), (2004.766, 0.40), (2004.779, 2.40), (2004.793, 1.45),
    (2004.807, 0.20), (2004.834, 0.15), (2004.943, 0.10), (2005.156, 0.30), (2005.170, 0.95), (2005.197, 0.60),
    (2005.256, 2.95), (2005.324, 0.60), (2005.379, 2.15), (2005.393, 1.00), (2005.406, 1.05), (2005.420, 0.30),
    (2005.433, 4.90), (2005.447, 2.40), (2005.461, 0.85), (2005.474, 0.30), (2005.502, 1.00), (2005.515, 1.25),
    (2005.529, 0.75), (2005.543, 1.25), (2005.556, 2.00), (2005.570, 0.70), (2005.583, 0.10), (2005.638, 4.45),
    (2005.788, 0.65), (2005.802, 1.40), (2005.870, 0.05), (2005.952, 0.05), (2006.020, 0.85), (2006.088, 1.70),
    (2006.102, 0.15), (2006.143, 0.50), (2006.211, 0.35), (2006.265, 1.25), (2006.361, 2.25), (2006.388, 2.30),
    (2006.402, 0.55), (2006.415, 0.35), (2006.429, 0.45), (2006.470, 0.55), (2006.483, 0.50), (2006.497, 1.15),
    (2006.511, 2.20), (2006.524, 0.55), (2006.538, 1.70), (2006.552, 0.20), (2006.579, 0.35), (2006.593, 0.55),
    (2006.606, 1.25), (2006.620, 0.55), (2006.633, 0.70), (2006.647, 0.15), (2006.661, 0.80), (2006.688, 0.85),
    (2006.702, 0.10), (2006.729, 0.80), (2006.743, 0.20), (2006.770, 1.70), (2006.784, 0.35), (2006.797, 0.30),
    (2006.865, 0.95), (2006.893, 0.30), (2006.934, 0.30), (2006.961, 1.00), (2007.002, 0.20), (2007.043, 1.25),
    (2007.097, 1.20), (2007.138, 0.20), (2007.234, 0.30), (2007.247, 0.40), (2007.261, 1.85), (2007.275, 0.50),
    (2007.316, 0.95), (2007.329, 1.00), (2007.343, 1.15), (2007.356, 2.25), (2007.370, 2.30), (2007.384, 0.50),
    (2007.397, 1.40), (2007.411, 0.85), (2007.425, 0.95), (2007.438, 3.05), (2007.452, 0.15), (2007.465, 2.45),
    (2007.479, 1.30), (2007.493, 0.80), (2007.506, 0.20), (2007.520, 0.30), (2007.533, 2.15), (2007.547, 0.15),
    (2007.561, 0.90), (2007.574, 1.35), (2007.588, 0.15), (2007.615, 0.30), (2007.629, 0.40), (2007.656, 1.00),
    (2007.670, 0.15), (2007.697, 1.00), (2007.711, 3.30), (2007.724, 1.00), (2007.738, 6.00), (2007.752, 1.05),
    (2007.779, 0.50), (2007.793, 0.30), (2007.806, 0.20), (2007.930, 0.10), (2008.000, 0.30), (2008.080, 0.55),
    (2008.110, 0.40),
]

# ---- colours ----
BG_WELL = "#FFFFCC"
BG_S20 = "#CCFFFF"
BG_S20F = "#CCFFCC"
BG_RAIN = "#FFCC99"
GREEN = "#339966"
RED = "#FF0000"
NAVY = "#000080"
BLUE = "#3366FF"

W, H = 1650, 964
START, END = pd.Timestamp("1990-01-01"), pd.Timestamp("2011-01-01")


def to_dates(years):
    years = np.asarray(years, dtype=float)
    return START + pd.to_timedelta((years - 1990.0) * 365.25, unit="D")


def unzip(points):
    yrs, vals = zip(*points)
    return to_dates(yrs), np.array(vals)


def fig_rect(x0, y0, x1, y1):
    # pixel box (top-left origin) -> figure fraction [left, bottom, width, height]
    return [x0 / W, 1 - y1 / H, (x1 - x0) / W, (y1 - y0) / H]


def date_label(x, pos=None):
    d = matplotlib.dates.num2date(x)
    return f"{d.month}/{d.day}/{d.strftime('%y')}"


def style_axes(ax, bg, ymax, ystep, xstep_years, xsize, ysize, xpad):
    ax.set_facecolor(bg)
    ax.set_xlim(START, END)
    ax.set_ylim(0, ymax)
    ax.yaxis.set_major_locator(MultipleLocator(ystep))
    ax.yaxis.set_major_formatter(FuncFormatter(lambda v, p: f"{v:g}"))
    ticks = pd.date_range("1990-01-01", "2011-01-01", freq=f"{12 * xstep_years}MS")
    ax.set_xticks(ticks)
    ax.xaxis.set_major_formatter(FuncFormatter(date_label))
    ax.grid(axis="y", color="#1a1a1a", linewidth=1.0, zorder=1)
    ax.set_axisbelow(True)
    for side in ["top", "right", "left", "bottom"]:
        ax.spines[side].set_color("#808080")
        ax.spines[side].set_linewidth(1.8)
    ax.spines["bottom"].set_color("#333333")
    ax.tick_params(axis="x", labelsize=xsize, length=4, width=1, pad=xpad, color="#333333")
    ax.tick_params(axis="y", labelsize=ysize, length=4, width=1, pad=2, color="#333333")


def white_box(fig, x0, y0, x1, y1, text, size, text_x=None, edge=None, lw=0.0, ha="left"):
    r = fig_rect(x0, y0, x1, y1)
    fig.add_artist(Rectangle((r[0], r[1]), r[2], r[3], transform=fig.transFigure,
                             facecolor="white", edgecolor=edge if edge else "white", linewidth=lw, zorder=5))
    if ha == "left":
        tx = (text_x if text_x is not None else x0 + 6) / W
    else:
        tx = (x0 + x1) / 2 / W
    fig.text(tx, 1 - (y0 + y1) / 2 / H, text, fontsize=size, ha=ha, va="center", zorder=6,
             linespacing=1.5)


def add_legend(ax, fig, handle, label, x, y, size, **kw):
    leg = ax.legend([handle], [label], loc="upper left", bbox_to_anchor=(x / W, 1 - y / H),
                    bbox_transform=fig.transFigure, fontsize=size, frameon=True, fancybox=False,
                    framealpha=1, edgecolor="black", borderaxespad=0, **kw)
    leg.get_frame().set_linewidth(1.0)
    return leg


def main():
    fig = plt.figure(figsize=(W / 100, H / 100), dpi=100)
    fig.patch.set_facecolor("white")

    ax1 = fig.add_axes(fig_rect(82, 12, 1631, 207))
    ax2 = fig.add_axes(fig_rect(93, 254, 1627, 476))
    ax3 = fig.add_axes(fig_rect(87, 521, 1622, 699))
    ax4 = fig.add_axes(fig_rect(87, 750, 1632, 938))

    style_axes(ax1, BG_WELL, 4, 0.5, 2, 8, 8, 7)
    style_axes(ax2, BG_S20, 4, 0.5, 2, 7, 7, 6)
    style_axes(ax3, BG_S20F, 3.5, 0.5, 2, 10, 10, 9)
    style_axes(ax4, BG_RAIN, 10, 1, 1, 8.5, 8.5, 6)

    # panel 1: BBCW4 well (dense daily markers)
    for seg in bbcw4_segments:
        d, v = unzip(seg)
        ax1.plot(d, v, color=GREEN, linewidth=3.8, solid_joinstyle="round", solid_capstyle="butt", zorder=3)
    h1 = Line2D([], [], linestyle="none", marker="_", markersize=6, markeredgewidth=3, color=GREEN)
    add_legend(ax1, fig, h1, "BBCW4 3 miles Northwest of site", 597, 23, 11,
               handlelength=0.6, handletextpad=0.4, borderpad=0.3)

    # panel 2: S20 headwater
    for seg in s20_segments:
        d, v = unzip(seg)
        ax2.plot(d, v, color=RED, linewidth=1.8, zorder=3)
    h2 = Line2D([], [], color=RED, linewidth=2)
    add_legend(ax2, fig, h2, "S20 Canal Headwater 5 miles southwest of site", 450, 257, 10.7,
               handlelength=3.4, handletextpad=0.3, borderpad=0.3)

    # panel 3: S20F headwater
    d, v = unzip(s20f_points)
    ax3.plot(d, v, color=NAVY, linewidth=2.0, zorder=3)
    h3 = Line2D([], [], color=NAVY, linewidth=2)
    add_legend(ax3, fig, h3, "S20F Canal Headwater 3 miles northwest of site", 408, 530, 10.5,
               handlelength=3.6, handletextpad=0.3, borderpad=0.3)

    # panel 4: rain gage bars
    d, v = unzip(rain_points)
    ax4.bar(d, v, width=5, color=BLUE, linewidth=0, zorder=3, align="center")
    h4 = Rectangle((0, 0), 1, 1, facecolor=BLUE, edgecolor="none")
    add_legend(ax4, fig, h4, "S20 Rain Gage 5 miles southwest of site", 1175, 765, 9.5,
               handlelength=0.6, handleheight=0.6, handletextpad=0.2, borderpad=0.45)

    # annotation boxes
    white_box(fig, 109, 24, 289, 49, "Mean Daily Elevation", 10.5, text_x=117)
    white_box(fig, 975, 23, 1286, 47, "Ground surface = 2.8 feet MSL (NGVD 29)", 10.5,
              text_x=980, edge="black", lw=1.5)
    white_box(fig, 98, 263, 347, 291, "Mean Daily Elevation", 9, text_x=104)
    white_box(fig, 93, 532, 255, 561, "Mean Daily Elevation", 10.8, text_x=98)
    white_box(fig, 1553, 874, 1621, 913, "No\nRecord", 9, ha="center")

    fig.text(19 / W, 1 - 384 / H, "Elevation  (feet MSL)", rotation=90, ha="center", va="center",
             fontsize=13.5)
    fig.text(29 / W, 1 - 847 / H, "Precipitation  (inches)", rotation=90, ha="center", va="center",
             fontsize=14)

    fig.savefig("out.png", dpi=100, facecolor="white")
    plt.close(fig)


if __name__ == "__main__":
    main()
